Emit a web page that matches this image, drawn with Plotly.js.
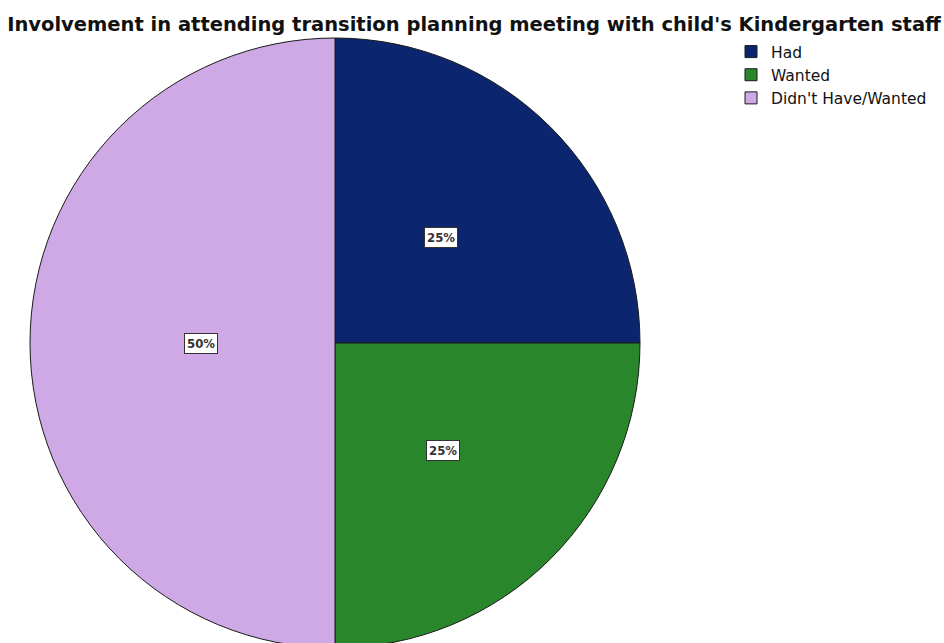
<!DOCTYPE html>
<html>
<head>
<meta charset="utf-8">
<script src="https://cdn.plot.ly/plotly-3.0.1.min.js"></script>
<style>
html,body{margin:0;padding:0;background:#fff;overflow:hidden;}
#chart{width:944px;height:660px;}
</style>
</head>
<body>
<div id="chart"></div>
<script>
const categories = ["Had", "Wanted", "Didn't Have/Wanted"];
const values = [25, 25, 50];
const colors = ["#0b266e", "#2a862b", "#cfa9e5"];
const titleText = "Involvement in attending transition planning meeting with child's Kindergarten staff";

const W = 944, H = 660;
// pie bounding box in pixels
const cx = 335, cy = 343, R = 305;
const domX = [(cx - R) / W, (cx + R) / W];
const domY = [1 - (cy + R) / H, 1 - (cy - R) / H];

const total = values.reduce((a, b) => a + b, 0);
const annotations = [];
let cum = 0;
const labelFrac = [0.49, 0.5, 0.44];
values.forEach((v, i) => {
  const mid = (cum + v / 2) / total * 2 * Math.PI;
  cum += v;
  const px = cx + Math.sin(mid) * R * labelFrac[i];
  const py = cy - Math.cos(mid) * R * labelFrac[i];
  annotations.push({
    xref: 'paper', yref: 'paper',
    x: px / W, y: 1 - py / H,
    xanchor: 'center', yanchor: 'middle',
    text: '<b>' + Math.round(v / total * 100) + '%</b>',
    showarrow: false,
    font: {family: 'DejaVu Sans Condensed, DejaVu Sans', size: 13, color: '#333'},
    bgcolor: '#ffffff', bordercolor: '#333', borderwidth: 1, borderpad: 2
  });
});

const data = [{
  type: 'pie',
  labels: categories,
  values: values,
  sort: false,
  direction: 'clockwise',
  rotation: 0,
  textinfo: 'none',
  hoverinfo: 'label+percent',
  marker: {colors: colors, line: {color: '#1a1a1a', width: 1}},
  domain: {x: domX, y: domY}
}];

const layout = {
  width: W, height: H,
  margin: {l: 0, r: 0, t: 0, b: 0},
  paper_bgcolor: '#fff',
  title: {
    text: '<b>' + titleText + '</b>',
    font: {family: 'DejaVu Sans', size: 19.5, color: '#111'},
    x: 474 / W, xanchor: 'center',
    y: 1 - 24 / H, yanchor: 'middle', yref: 'container'
  },
  showlegend: true,
  legend: {
    x: 731 / W, xanchor: 'left',
    y: 1 - 35 / H, yanchor: 'top',
    font: {family: 'DejaVu Sans', size: 15.5, color: '#111'},
    tracegroupgap: 0, itemwidth: 30,
    bgcolor: 'rgba(0,0,0,0)'
  },
  annotations: annotations
};

Plotly.newPlot('chart', data, layout, {displayModeBar: false, staticPlot: true});
</script>
</body>
</html>
